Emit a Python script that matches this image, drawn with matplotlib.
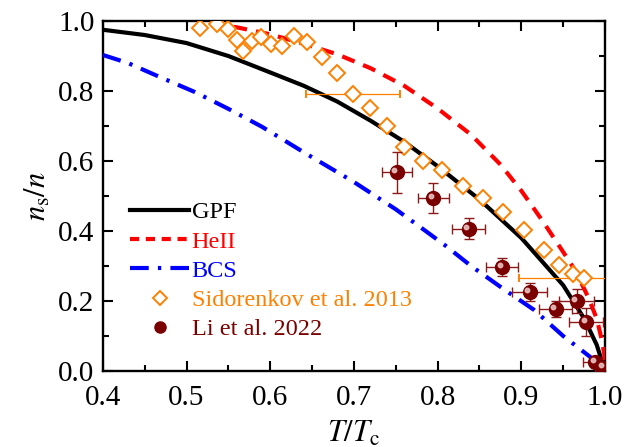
import numpy as np
import matplotlib
matplotlib.use("Agg")
import matplotlib.pyplot as plt
from matplotlib.lines import Line2D
from matplotlib.transforms import offset_copy
from matplotlib.ticker import MultipleLocator

plt.rcParams['font.family'] = 'Liberation Serif'
plt.rcParams['mathtext.fontset'] = 'stix'

# ── Theory curves ────────────────────────────────────────────────────────────
gpf_t = [0.40, 0.45, 0.50, 0.55, 0.60, 0.64, 0.68, 0.72, 0.76, 0.80, 0.85,
         0.90, 0.95, 0.975, 0.99, 1.00]
gpf_ns = [0.975, 0.960, 0.937, 0.900, 0.853, 0.815, 0.770, 0.715, 0.655,
          0.585, 0.490, 0.380, 0.245, 0.150, 0.075, 0.000]

he_t = [0.53, 0.56, 0.60, 0.64, 0.68, 0.72, 0.76, 0.80, 0.84, 0.875, 0.90,
        0.925, 0.95, 0.965, 0.98, 0.99, 0.995, 0.999, 1.00]
he_ns = [0.993, 0.982, 0.962, 0.935, 0.905, 0.865, 0.815, 0.750, 0.675, 0.590,
         0.515, 0.430, 0.340, 0.285, 0.210, 0.150, 0.100, 0.050, 0.000]

bcs_t = [0.40, 0.43, 0.47, 0.51, 0.55, 0.59, 0.64, 0.70, 0.75, 0.78, 0.81,
         0.84, 0.88, 0.915, 0.95, 0.97, 0.985, 1.00]
bcs_ns = [0.903, 0.880, 0.838, 0.797, 0.749, 0.698, 0.625, 0.540, 0.462,
          0.410, 0.357, 0.300, 0.232, 0.175, 0.100, 0.063, 0.035, 0.000]

# ── Experiments ──────────────────────────────────────────────────────────────
sid_t = [0.516, 0.536, 0.549, 0.560, 0.568, 0.578, 0.589, 0.601, 0.614, 0.628,
         0.644, 0.662, 0.680, 0.699, 0.719, 0.739, 0.760, 0.783, 0.805, 0.830,
         0.854, 0.878, 0.903, 0.927, 0.945, 0.962, 0.975]
sid_ns = [0.979, 0.991, 0.977, 0.946, 0.914, 0.943, 0.954, 0.934, 0.929, 0.957,
          0.940, 0.897, 0.852, 0.791, 0.751, 0.700, 0.640, 0.600, 0.574, 0.529,
          0.494, 0.455, 0.403, 0.346, 0.303, 0.277, 0.266]
sid_terr = [0, 0, 0, 0, 0, 0, 0, 0, 0, 0, 0, 0, 0, 0.056, 0, 0, 0, 0, 0, 0,
            0, 0, 0, 0, 0, 0, 0.078]

li_t = [0.751, 0.795, 0.837, 0.877, 0.910, 0.941, 0.966, 0.977, 0.988, 0.998]
li_ns = [0.568, 0.495, 0.406, 0.297, 0.226, 0.177, 0.200, 0.140, 0.026, 0.010]
li_terr = [0.018, 0.018, 0.020, 0.019, 0.021, 0.020, 0.021, 0.020, 0.014, 0.010]
li_nerr = [0.058, 0.043, 0.030, 0.026, 0.026, 0.022, 0.033, 0.040, 0.010, 0.010]

ORANGE = '#FF8000'
MAROON = '#7A0000'

fig = plt.figure(figsize=(6.27, 4.47), dpi=100)
ax = fig.add_axes([0.164, 0.170, 0.801, 0.783])

ax.plot(gpf_t, gpf_ns, color='black', lw=3.0, zorder=3)
ax.plot(he_t, he_ns, color='red', lw=3.0, dashes=(3.2, 2.2), zorder=3)
ax.plot(bcs_t, bcs_ns, color='blue', lw=3.0, dashes=(4.5, 2.2, 0.8, 2.2),
        zorder=3)

ax.errorbar(sid_t, sid_ns, xerr=sid_terr, fmt='D', ms=8, mfc='white',
            mec=ORANGE, mew=1.4, ecolor=ORANGE, elinewidth=0.9, capsize=3,
            capthick=0.9, zorder=4)

ax.errorbar(li_t, li_ns, xerr=li_terr, yerr=li_nerr, fmt='o', ms=10,
            mfc=MAROON, mec=MAROON, ecolor='#8B1A1A', elinewidth=1.0,
            capsize=3.5, capthick=1.0, zorder=5)
# small highlight on each sphere
shine = offset_copy(ax.transData, fig=fig, x=-1.6, y=1.6, units='points')
ax.plot(li_t, li_ns, 'o', ms=3.2, color='#E8C0C0', alpha=0.9,
        transform=shine, zorder=6)

ax.set_xlim(0.4, 1.0)
ax.set_ylim(0.0, 1.0)
ax.xaxis.set_major_locator(MultipleLocator(0.1))
ax.xaxis.set_minor_locator(MultipleLocator(0.05))
ax.yaxis.set_major_locator(MultipleLocator(0.2))
ax.yaxis.set_minor_locator(MultipleLocator(0.1))
ax.xaxis.set_major_formatter(plt.FormatStrFormatter('%.1f'))
ax.yaxis.set_major_formatter(plt.FormatStrFormatter('%.1f'))

ax.tick_params(which='both', direction='in', top=True, right=True,
               labelsize=21, width=1.5)
ax.tick_params(axis='x', pad=10)
ax.tick_params(axis='y', pad=6)
ax.tick_params(which='major', length=7)
ax.tick_params(which='minor', length=4)
for s in ax.spines.values():
    s.set_linewidth(1.7)

ax.set_xlabel(r'$T/T_\mathrm{c}$', fontsize=22, labelpad=6)
ax.set_ylabel(r'$n_\mathrm{s}/n$', fontsize=22, labelpad=4)

# legend entries show the markers only, without error bars
handles = [
    Line2D([], [], color='black', lw=3.0),
    Line2D([], [], color='red', lw=3.0, dashes=(2.2, 1.6)),
    Line2D([], [], color='blue', lw=3.0, dashes=(4.5, 2.2, 0.8, 2.2)),
    Line2D([], [], ls='none', marker='D', ms=7, mfc='white', mec=ORANGE, mew=1.4),
    Line2D([], [], ls='none', marker='o', ms=8, mfc=MAROON, mec=MAROON),
]
labels = ['GPF', 'HeII', 'BCS', 'Sidorenkov et al. 2013', 'Li et al. 2022']
leg = ax.legend(handles, labels, loc='upper left', bbox_to_anchor=(0.055, 0.485),
                frameon=False, fontsize=17.5, handlelength=2.4,
                handletextpad=0.12, labelspacing=0.3, borderpad=0,
                borderaxespad=0)
for txt, c in zip(leg.get_texts(), ['black', 'red', 'blue', ORANGE, MAROON]):
    txt.set_color(c)

fig.savefig('out.png', dpi=100)
